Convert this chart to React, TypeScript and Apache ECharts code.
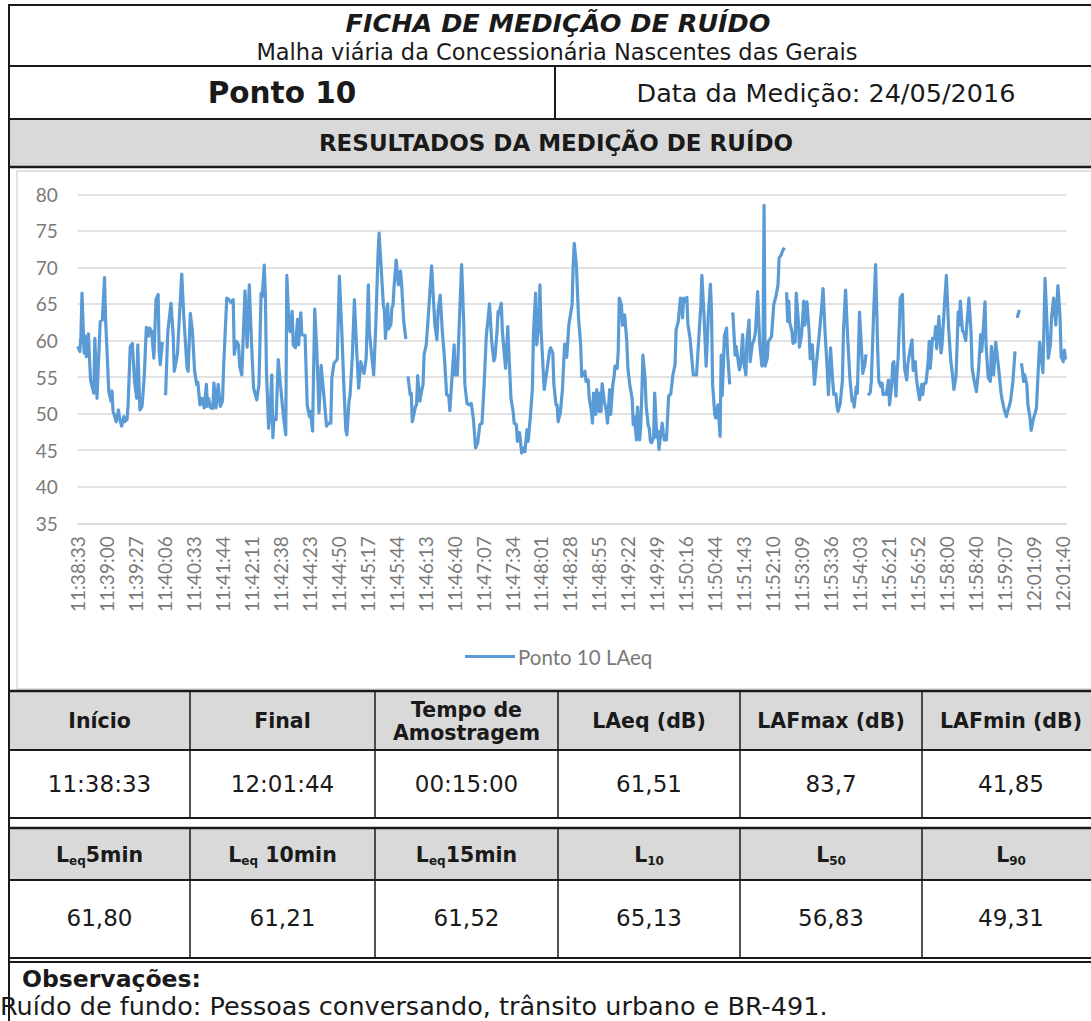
import React, { useEffect, useRef } from "react";
import * as echarts from "echarts";

// ---------- data ----------
const tickLabels = [
  "11:38:33", "11:39:00", "11:39:27", "11:40:06", "11:40:33", "11:41:44", "11:42:11",
  "11:42:38", "11:44:23", "11:44:50", "11:45:17", "11:45:44", "11:46:13", "11:46:40",
  "11:47:07", "11:47:34", "11:48:01", "11:48:28", "11:48:55", "11:49:22", "11:49:49",
  "11:50:16", "11:50:44", "11:51:43", "11:52:10", "11:53:09", "11:53:36", "11:54:03",
  "11:56:21", "11:56:52", "11:58:00", "11:58:40", "11:59:07", "12:01:09", "12:01:40",
];
const LABEL_EVERY = 27; // one tick label every 27 samples
const SAMPLE_COUNT = 923; // samples 0..922

// [sample index, LAeq dB] ; null = gap in the record
const laeqPoints: [number, number | null][] = [
  [0, 59.2], [2, 58.5], [3, 60.6], [4, 66.5], [6, 58.3], [7, 60.6], [8, 57.8], [10, 60.9], [11, 57.6], [12, 54.6],
  [15, 52.8], [16, 60.3], [18, 52.1], [21, 62.6], [23, 62.8], [25, 68.6], [26, 63.0], [29, 53.0], [31, 51.7], [32, 53.1],
  [33, 50.3], [34, 49.9], [36, 48.9], [38, 50.5], [39, 49.4], [41, 48.3], [43, 49.6], [44, 48.9], [46, 49.2], [47, 51.2],
  [49, 59.2], [51, 59.6], [53, 54.4], [55, 52.1], [56, 59.4], [58, 50.5], [60, 51.0], [62, 54.9], [64, 61.8], [66, 60.6],
  [67, 61.7], [69, 61.2], [71, 57.6], [73, 65.6], [75, 66.3], [76, 58.5], [77, 56.7], [79, 59.8], [80, null],
  [81, 52.9], [82, 52.7], [84, 61.2], [87, 65.1], [89, 60.8], [90, 55.8], [93, 58.1], [94, 61.0], [97, 69.1], [99, 63.1],
  [102, 56.2], [103, 55.8], [105, 63.7], [107, 61.2], [109, 55.8], [111, 54.0], [112, 54.3], [114, 51.2], [115, 51.4], [116, 52.1],
  [118, 50.8], [120, 54.0], [121, 51.0], [122, 52.1], [124, 50.8], [126, 50.7], [127, 54.2], [129, 50.8], [131, 54.0], [133, 51.0],
  [135, 51.7], [136, 56.2], [139, 65.8], [141, 65.6], [143, 65.2], [145, 65.6], [146, 58.1], [148, 59.9], [150, 59.4], [151, 56.5],
  [153, 55.3], [156, 66.8], [158, 59.1], [160, 67.6], [162, 59.9], [164, 53.5], [167, 51.9], [169, 54.0], [171, 66.5], [172, 66.0],
  [174, 70.3], [175, 66.2], [176, 55.8], [178, 48.0], [179, 49.4], [181, 55.3], [182, 46.7], [183, 49.4], [185, 49.2], [187, 57.4],
  [189, 54.0], [192, 49.4], [194, 47.1], [195, 68.9], [197, 62.1], [198, 61.2], [200, 64.0], [201, 59.4], [203, 59.0], [205, 62.9],
  [206, 59.4], [208, 63.8], [209, 60.8], [212, 60.7], [214, 51.2], [216, 49.6], [217, 50.3], [219, 47.6], [221, 64.3], [223, 58.5],
  [225, 50.1], [227, 56.6], [230, 51.7], [232, 48.3], [234, 48.7], [236, 48.7], [237, 54.9], [239, 56.9], [242, 57.4], [244, 68.8],
  [246, 62.2], [248, 54.4], [250, 47.8], [251, 47.1], [253, 51.7], [254, 52.6], [256, 57.6], [258, 65.6], [260, 59.0], [262, 53.5],
  [264, 57.1], [265, 56.4], [267, 55.5], [269, 57.6], [271, 67.6], [272, 61.2], [274, 58.1], [276, 55.3], [278, 62.2], [280, 71.7],
  [281, 74.7], [283, 69.9], [285, 64.9], [286, 64.0], [287, 60.3], [289, 65.0], [290, 61.6], [292, 62.2], [293, 64.5], [294, 64.8],
  [295, 67.4], [297, 71.0], [299, 67.6], [300, 68.9], [301, 69.5], [302, 67.8], [304, 62.6], [306, 60.2], [307, null],
  [308, 55.1], [310, 52.6], [311, 52.8], [312, 48.9], [314, 50.3], [315, 51.0], [316, 51.2], [317, 55.2], [319, 51.7], [320, 52.6],
  [322, 54.0], [323, 58.1], [325, 59.4], [327, 63.5], [330, 70.2], [332, 64.9], [333, 62.2], [335, 60.1], [336, 64.0], [338, 66.2],
  [340, 61.2], [342, 57.6], [344, 52.6], [346, 52.4], [347, 50.4], [349, 54.9], [351, 59.4], [352, 55.3], [354, 55.3], [356, 63.1],
  [358, 70.4], [360, 62.2], [361, 54.0], [363, 51.4], [365, 51.2], [367, 51.4], [369, 49.2], [371, 45.3], [373, 46.0], [375, 48.5],
  [377, 48.7], [379, 54.0], [381, 60.6], [384, 65.0], [386, 59.9], [388, 57.2], [389, 57.6], [391, 61.2], [392, 64.0], [393, 63.7],
  [394, 64.5], [395, 65.1], [396, 61.2], [398, 57.8], [399, 56.2], [401, 61.9], [402, 58.5], [404, 52.1], [406, 50.3], [407, 48.7],
  [409, 48.5], [410, 46.2], [412, 47.4], [414, 44.6], [415, 45.1], [416, 45.3], [417, 44.8], [419, 47.8], [420, 46.2], [422, 49.4],
  [424, 53.5], [425, 61.2], [427, 66.5], [428, 59.4], [430, 62.4], [431, 67.6], [432, 61.7], [434, 56.0], [435, 53.3], [437, 55.3],
  [438, 56.4], [440, 58.6], [441, 59.0], [443, 58.3], [444, 54.0], [446, 51.2], [447, 51.2], [448, 48.9], [450, 50.1], [452, 53.3],
  [454, 59.5], [456, 57.7], [458, 62.2], [459, 63.1], [461, 64.9], [462, 70.3], [463, 73.3], [465, 70.3], [467, 63.1], [469, 59.4],
  [470, 55.1], [473, 55.8], [474, 54.4], [476, 54.6], [477, 52.1], [479, 50.3], [480, 48.7], [481, 52.8], [483, 49.9], [484, 53.3],
  [486, 50.3], [487, 52.8], [488, 50.3], [489, 54.1], [491, 51.7], [493, 50.3], [494, 48.7], [496, 53.3], [497, 49.9], [499, 54.0],
  [500, 54.9], [501, 56.5], [503, 56.2], [504, 58.5], [505, 65.8], [507, 64.9], [508, 62.1], [509, 63.1], [510, 63.5], [512, 59.9],
  [513, 56.2], [515, 53.7], [517, 52.1], [518, 48.5], [519, 49.6], [521, 46.4], [522, 50.9], [524, 46.4], [525, 48.3], [526, 52.6],
  [527, 58.0], [529, 54.9], [530, 51.2], [532, 48.3], [533, 48.0], [534, 46.2], [535, 46.0], [537, 46.7], [538, 52.8], [540, 46.7],
  [541, 47.6], [542, 45.1], [543, 46.4], [545, 48.7], [546, 47.4], [547, 46.4], [549, 46.4], [551, 52.4], [553, 52.7], [555, 55.3],
  [557, 56.7], [558, 61.5], [560, 62.6], [562, 65.8], [563, 65.6], [564, 63.1], [565, 65.8], [567, 65.3], [568, 65.9], [569, 62.2],
  [571, 60.3], [573, 56.9], [574, 55.3], [577, 55.3], [579, 59.9], [581, 64.7], [582, 68.9], [584, 63.5], [586, 56.5], [587, 59.6],
  [588, 63.5], [590, 67.7], [591, 64.0], [592, 54.0], [594, 49.9], [595, 49.4], [597, 51.2], [599, 46.9], [600, 58.0], [601, 52.5],
  [603, 60.6], [605, 61.7], [606, 58.1], [608, 54.0], [609, null],
  [610, 63.8], [611, 63.6], [613, 58.0], [614, 59.2], [615, 58.1], [617, 56.0], [618, 56.5], [620, 60.8], [621, 57.2], [623, 55.3],
  [624, 59.9], [626, 62.8], [627, 57.1], [629, 59.4], [631, 60.3], [632, 61.2], [634, 66.7], [636, 59.4], [638, 56.5], [639, 58.1],
  [640, 78.5], [641, 56.5], [643, 57.6], [644, 59.9], [646, 60.3], [647, 60.6], [649, 64.9], [651, 66.0], [653, 67.6], [654, 71.3],
  [656, 71.7], [657, 72.2], [659, 72.7], [660, null],
  [661, 66.6], [662, 62.6], [663, 65.4], [664, 62.4], [666, 61.2], [667, 59.6], [669, 59.8], [670, 66.5], [672, 62.6], [673, 59.1],
  [675, 60.8], [677, 65.4], [678, 62.1], [680, 65.3], [682, 61.2], [683, 57.5], [685, 59.4], [687, 54.0], [689, 57.1], [692, 61.7],
  [694, 65.1], [695, 67.1], [697, 60.8], [699, 55.8], [700, 52.6], [702, 59.0], [704, 54.4], [705, 52.6], [707, 52.7], [708, 51.0],
  [709, 50.3], [711, 51.4], [713, 54.4], [714, 61.2], [716, 66.9], [718, 60.3], [720, 54.9], [722, 51.7], [723, 52.1], [724, 50.9],
  [726, 53.7], [727, 52.8], [728, 58.3], [729, 63.9], [731, 58.5], [732, 55.5], [734, 56.7], [735, 58.1], [736, null],
  [737, 52.5], [739, 52.9], [740, 54.4], [742, 63.1], [744, 70.4], [746, 58.5], [747, 54.4], [749, 53.7], [750, 54.2], [751, 52.6],
  [753, 52.8], [754, 52.6], [756, 54.6], [757, 51.2], [759, 53.9], [760, 56.9], [761, 57.1], [763, 52.4], [764, 55.8], [765, 57.6],
  [767, 65.8], [769, 66.3], [770, 60.3], [771, 56.2], [773, 54.6], [774, 56.7], [776, 58.6], [778, 60.1], [779, 55.9], [781, 57.1],
  [782, 54.9], [784, 52.8], [785, 51.9], [787, 54.0], [788, 52.6], [789, 54.1], [791, 54.2], [793, 57.1], [794, 59.9], [795, 56.2],
  [797, 60.3], [799, 60.2], [800, 61.9], [801, 58.9], [803, 63.3], [805, 58.3], [806, 59.4], [808, 64.4], [810, 68.9], [812, 61.9],
  [814, 57.4], [816, 54.9], [817, 53.3], [819, 55.1], [821, 63.9], [822, 62.1], [823, 65.4], [825, 61.3], [826, 61.2], [828, 60.0],
  [829, 61.9], [831, 65.8], [833, 61.2], [834, 56.2], [836, 54.4], [838, 53.0], [840, 56.0], [842, 60.8], [843, 58.5], [844, 60.6],
  [846, 65.3], [847, 59.4], [849, 54.9], [851, 54.4], [852, 59.2], [854, 55.3], [856, 59.8], [857, 58.5], [859, 55.8], [861, 52.8],
  [862, 51.9], [864, 50.5], [866, 49.6], [867, 50.3], [869, 51.2], [870, 51.9], [872, 54.4], [874, 58.5], [875, null],
  [876, 63.1], [878, 64.2], [879, null],
  [880, 56.9], [881, 55.8], [882, 54.4], [883, 55.3], [885, 54.0], [886, 51.2], [888, 49.4], [889, 47.7], [891, 49.2], [893, 50.2],
  [894, 50.8], [895, 54.0], [897, 59.8], [900, 55.6], [902, 68.5], [904, 61.7], [905, 57.6], [907, 59.4], [908, 63.1], [910, 65.8],
  [912, 62.1], [914, 67.5], [916, 63.1], [917, 57.8], [919, 57.1], [920, 58.7], [921, 57.6], [922, 57.7],
];

const seriesName = "Ponto 10 LAeq";
const yTicks = { min: 35, max: 80, interval: 5 };

const titleText = "FICHA DE MEDIÇÃO DE RUÍDO";
const subtitleText = "Malha viária da Concessionária Nascentes das Gerais";
const pointText = "Ponto 10";
const dateText = "Data da Medição: 24/05/2016";
const sectionText = "RESULTADOS DA MEDIÇÃO DE RUÍDO";

const table1Headers = ["Início", "Final", "Tempo de\nAmostragem", "LAeq (dB)", "LAFmax (dB)", "LAFmin (dB)"];
const table1Values = ["11:38:33", "12:01:44", "00:15:00", "61,51", "83,7", "41,85"];
// rich-text headers with subscripts
const table2Headers = [
  "{b|L}{s|eq}{b|5min}",
  "{b|L}{s|eq}{b| 10min}",
  "{b|L}{s|eq}{b|15min}",
  "{b|L}{s|10}",
  "{b|L}{s|50}",
  "{b|L}{s|90}",
];
const table2Values = ["61,80", "61,21", "61,52", "65,13", "56,83", "49,31"];
const obsTitle = "Observações:";
const obsText = "Ruído de fundo: Pessoas conversando, trânsito urbano e BR-491.";

// ---------- layout / style ----------
const W = 1091;
const H = 1021;
const INK = "#1a1a1a";
const GRAY_FILL = "#d9d9d9";
const TABLE_FONT = "'DejaVu Sans', 'Liberation Sans', sans-serif";
const CHART_FONT = "Lato, 'Noto Sans', sans-serif";
const AXIS_GRAY = "#7a7a7a";
const colX = [9, 190, 375, 558, 740, 922, 1100];

function hLine(y: number, w = 2, x1 = 0, x2 = W) {
  return { type: "line", silent: true, shape: { x1, y1: y, x2, y2: y }, style: { stroke: INK, lineWidth: w } };
}
function vLine(x: number, y1: number, y2: number, w = 2) {
  return { type: "line", silent: true, shape: { x1: x, y1, x2: x, y2 }, style: { stroke: INK, lineWidth: w } };
}
function box(x: number, y: number, w: number, h: number, fill: string) {
  return { type: "rect", silent: true, shape: { x, y, width: w, height: h }, style: { fill } };
}
function label(x: number, y: number, text: string, size: number, weight = "normal", extra: any = {}) {
  return {
    type: "text",
    silent: true,
    x,
    y,
    style: {
      text,
      fontFamily: TABLE_FONT,
      fontSize: size,
      fontWeight: weight,
      fill: INK,
      align: "center",
      verticalAlign: "middle",
      ...extra,
    },
  };
}

function buildGraphics() {
  const g: any[] = [];
  // gray bands
  g.push(box(10, 120, W, 47, GRAY_FILL));
  g.push(box(10, 692, W, 58, GRAY_FILL));
  g.push(box(10, 829, W, 51, GRAY_FILL));
  // chart frame
  g.push({
    type: "rect",
    silent: true,
    shape: { x: 17, y: 171, width: 1090, height: 518 },
    style: { fill: "none", stroke: "#d9d9d9", lineWidth: 1.5 },
  });
  // outer border lines
  g.push(hLine(5, 2, 8));
  g.push(vLine(9, 4, H, 2));
  g.push(hLine(66, 2, 8));
  g.push(hLine(119, 2, 8));
  g.push(hLine(167, 2.5, 8));
  g.push(vLine(555, 66, 119, 2));
  g.push(hLine(691, 2.5, 8));
  g.push(hLine(750, 2, 8));
  g.push(hLine(818, 2, 8));
  g.push(hLine(828, 2.5, 8));
  g.push(hLine(880, 2, 8));
  g.push(hLine(958, 2, 8));
  g.push(hLine(962, 2, 8));
  for (let i = 1; i < colX.length - 1; i++) {
    g.push(vLine(colX[i], 691, 818, 1.5));
    g.push(vLine(colX[i], 828, 958, 1.5));
  }
  // header texts
  g.push(label(558, 23, titleText, 25.5, "bold", { fontStyle: "italic" }));
  g.push(label(557, 52, subtitleText, 22.5));
  g.push(label(282, 93, pointText, 29.5, "bold"));
  g.push(label(826, 93, dateText, 25.5));
  g.push(label(556, 143, sectionText, 23, "bold"));
  // table 1
  for (let i = 0; i < 6; i++) {
    const cx = (colX[i] + colX[i + 1]) / 2;
    g.push(label(cx, 721, table1Headers[i], 20.5, "bold", { lineHeight: 23 }));
    g.push(label(cx, 784, table1Values[i], 23));
  }
  // table 2
  for (let i = 0; i < 6; i++) {
    const cx = (colX[i] + colX[i + 1]) / 2;
    g.push(
      label(cx, 855, table2Headers[i], 20.5, "bold", {
        rich: {
          b: { fontFamily: TABLE_FONT, fontSize: 20.5, fontWeight: "bold", fill: INK, lineHeight: 24 },
          s: { fontFamily: TABLE_FONT, fontSize: 12, fontWeight: "bold", fill: INK, verticalAlign: "bottom", lineHeight: 22 },
        },
      })
    );
    g.push(label(cx, 918, table2Values[i], 23));
  }
  // observations
  g.push(label(22, 979, obsTitle, 23.5, "bold", { align: "left" }));
  g.push(label(0, 1006, obsText, 25.5, "normal", { align: "left" }));
  return g;
}

export default function App() {
  const ref = useRef<HTMLDivElement>(null);
  useEffect(() => {
    document.body.style.margin = "0";
    if (!ref.current) return;
    const chart = echarts.init(ref.current, null, { renderer: "svg" });
    const categories = Array.from({ length: SAMPLE_COUNT }, (_, i) => String(i));
    chart.setOption({
      animation: false,
      backgroundColor: "#ffffff",
      grid: { left: 77.7, right: W - 1066.5, top: 194.3, bottom: H - 523.3, containLabel: false },
      legend: {
        data: [seriesName],
        icon: "rect",
        left: 460,
        top: 641,
        itemWidth: 50,
        itemHeight: 3,
        itemGap: 10,
        textStyle: { fontFamily: CHART_FONT, fontSize: 20.5, color: AXIS_GRAY, padding: [0, 0, 0, -2] },
      },
      xAxis: {
        type: "category",
        data: categories,
        boundaryGap: false,
        axisLine: { show: true, lineStyle: { color: "#d9d9d9", width: 1.5 } },
        axisTick: { show: false },
        splitLine: { show: false },
        axisLabel: {
          interval: LABEL_EVERY - 1,
          rotate: 90,
          margin: 13,
          fontFamily: CHART_FONT,
          fontSize: 19,
          color: AXIS_GRAY,
          formatter: (_v: string, idx: number) =>
            idx % LABEL_EVERY === 0 && tickLabels[idx / LABEL_EVERY] ? tickLabels[idx / LABEL_EVERY] : "",
        },
      },
      yAxis: {
        type: "value",
        min: yTicks.min,
        max: yTicks.max,
        interval: yTicks.interval,
        axisLine: { show: false },
        axisTick: { show: false },
        splitLine: { show: true, lineStyle: { color: "#d9d9d9", width: 1.5 } },
        axisLabel: { margin: 20, fontFamily: CHART_FONT, fontSize: 19, color: AXIS_GRAY },
      },
      series: [
        {
          name: seriesName,
          type: "line",
          data: laeqPoints,
          symbol: "none",
          showSymbol: false,
          connectNulls: false,
          lineStyle: { color: "#5b9bd5", width: 3.2, join: "round" },
          itemStyle: { color: "#5b9bd5" },
        },
      ],
      graphic: { elements: buildGraphics() },
    });
    return () => chart.dispose();
  }, []);
  return <div ref={ref} style={{ width: W, height: H }} />;
}
